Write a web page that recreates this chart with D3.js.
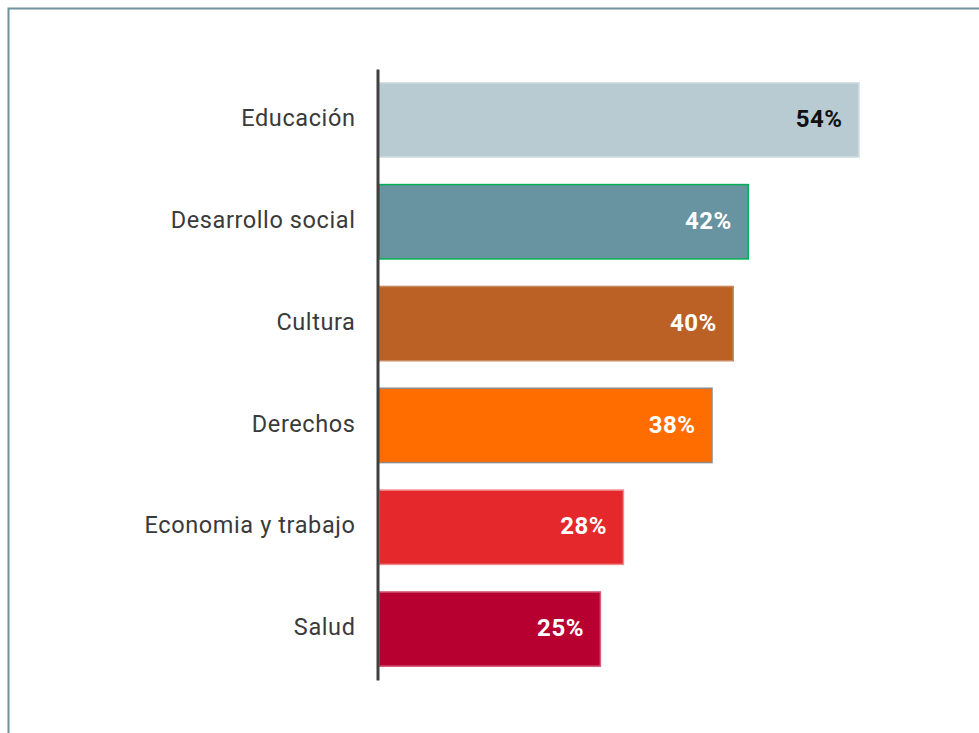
<!DOCTYPE html>
<html><head><meta charset="utf-8">
<script src="https://cdn.jsdelivr.net/npm/d3@7/dist/d3.min.js"></script>
<style>body{margin:0;background:#fff;}svg{display:block;font-family:Roboto,sans-serif;}</style>
</head><body>
<script>
const categories = ["Educación","Desarrollo social","Cultura","Derechos","Economia y trabajo","Salud"];
const values = [54.2, 41.7, 40.0, 37.6, 27.6, 25.0];
const fills = ["#b8cbd2","#6893a1","#bb6125","#ff6d00","#e4282b","#b80030"];
const strokes = ["#d3dfe3","#00b050","#c98a60","#8a8a8a","#f08a8c","#d7607e"];
const labelColors = ["#111111","#ffffff","#ffffff","#ffffff","#ffffff","#ffffff"];

const W = 979, H = 733;
const svg = d3.select("body").append("svg").attr("width", W).attr("height", H);

svg.append("path").attr("d", `M8.5,${H} V8.5 H${W}`).attr("fill","none")
  .attr("stroke","#6f929c").attr("stroke-width",2);

const x = d3.scaleLinear().domain([0, 54.2]).range([379, 859]);
const y = d3.scaleBand().domain(categories).range([69, 680]).paddingInner(0.27).paddingOuter(0.135);

const data = categories.map((c,i)=>({c, v:values[i], i}));

svg.selectAll("rect.bar").data(data).join("rect").attr("class","bar")
  .attr("x", x(0)).attr("y", d=>y(d.c)).attr("width", d=>x(d.v)-x(0)).attr("height", y.bandwidth())
  .attr("fill", d=>fills[d.i]).attr("stroke", d=>strokes[d.i]).attr("stroke-width", 1.5);

svg.selectAll("text.val").data(data).join("text").attr("class","val")
  .attr("x", d=>x(d.v)-16.5).attr("y", d=>y(d.c)+y.bandwidth()/2).attr("dy","0.3em")
  .attr("text-anchor","end").attr("font-size",24).attr("font-weight","bold").attr("letter-spacing","0.5px")
  .attr("fill", d=>labelColors[d.i]).text(d=>Math.round(d.v)+"%");

const axis = d3.axisLeft(y).tickSize(0).tickPadding(22);
const g = svg.append("g").attr("transform","translate(377.5,0)").call(axis);
g.select(".domain").attr("stroke","#404040").attr("stroke-width",3);
g.selectAll(".tick text").attr("font-size",23.5).attr("letter-spacing","0.6px").attr("fill","#3a3a3a")
  .attr("font-family","Roboto,sans-serif").attr("dy","0.26em");
</script>
</body></html>
